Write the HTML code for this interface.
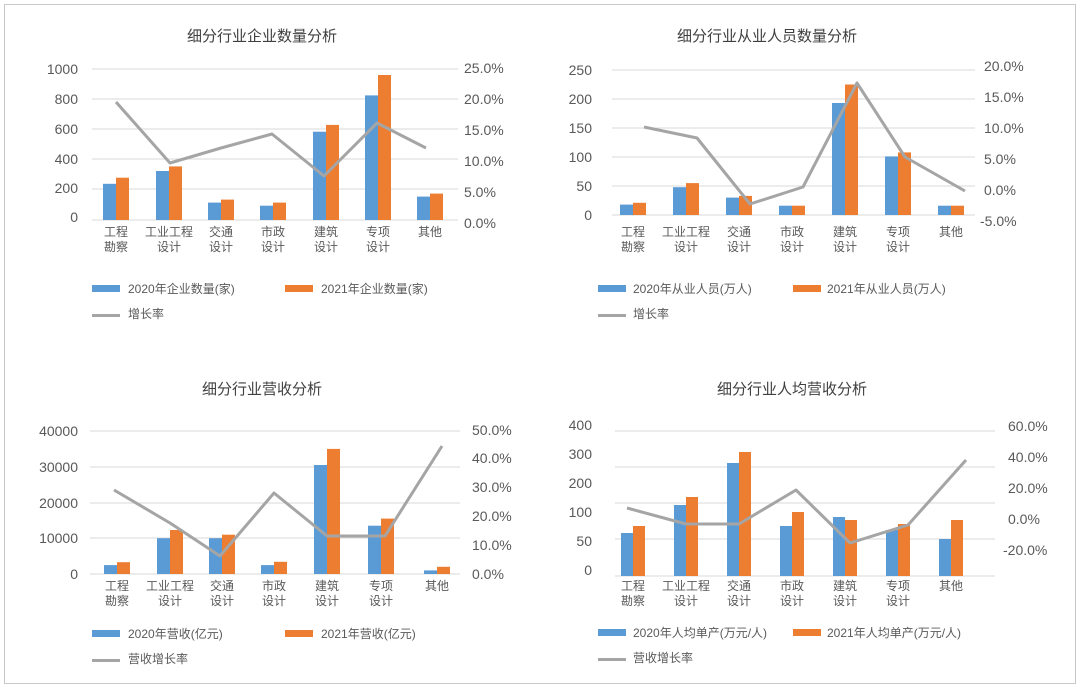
<!DOCTYPE html>
<html><head><meta charset="utf-8"><style>
html,body{margin:0;padding:0;background:#fff;}
svg{display:block;font-family:"Liberation Sans","Noto Sans CJK SC",sans-serif;}
.t{font-size:15px;fill:#404040;text-anchor:middle}
.n{font-size:14px;fill:#595959}
.c{font-size:12px;fill:#595959;text-anchor:middle}
.l{font-size:12px;fill:#595959}
.g{stroke:#d9d9d9;stroke-width:1}
.b{fill:#5b9bd5}.o{fill:#ed7d31}
.ln{fill:none;stroke:#a5a5a5;stroke-width:3;stroke-linejoin:round}
</style></head><body>
<svg width="1080" height="688" viewBox="0 0 1080 688">
<rect x="4.5" y="4.5" width="1071" height="679" fill="#fff" stroke="#c8c8c8"/>

<!-- Chart 1 -->
<text class="t" x="262" y="41">细分行业企业数量分析</text>
<g class="g"><line x1="92" x2="458" y1="69" y2="69"/><line x1="92" x2="458" y1="99" y2="99"/><line x1="92" x2="458" y1="129" y2="129"/><line x1="92" x2="458" y1="159" y2="159"/><line x1="92" x2="458" y1="189" y2="189"/><line x1="92" x2="458" y1="220" y2="220"/></g>
<g class="n" text-anchor="end"><text x="78" y="74">1000</text><text x="78" y="104">800</text><text x="78" y="134">600</text><text x="78" y="164">400</text><text x="78" y="193">200</text><text x="78" y="222">0</text></g>
<g class="n"><text x="464" y="73">25.0%</text><text x="464" y="104">20.0%</text><text x="464" y="135">15.0%</text><text x="464" y="166">10.0%</text><text x="464" y="197">5.0%</text><text x="464" y="228">0.0%</text></g>
<rect class="b" x="103" y="183.8" width="13" height="36.2"/><rect class="o" x="116" y="177.7" width="13" height="42.3"/>
<rect class="b" x="156" y="171" width="13" height="49"/><rect class="o" x="169" y="166.4" width="13" height="53.6"/>
<rect class="b" x="208" y="202.6" width="13" height="17.4"/><rect class="o" x="221" y="199.6" width="13" height="20.4"/>
<rect class="b" x="260" y="205.7" width="13" height="14.3"/><rect class="o" x="273" y="202.6" width="13" height="17.4"/>
<rect class="b" x="313" y="131.7" width="13" height="88.3"/><rect class="o" x="326" y="124.9" width="13" height="95.1"/>
<rect class="b" x="365" y="95.4" width="13" height="124.6"/><rect class="o" x="378" y="75" width="13" height="145"/>
<rect class="b" x="417" y="196.6" width="13" height="23.4"/><rect class="o" x="430" y="193.6" width="13" height="26.4"/>
<polyline class="ln" points="116,102 170,163 221,148 272,134 324,176 377,123 426,148"/>
<g class="c"><text x="116" y="236">工程</text><text x="116" y="251">勘察</text><text x="169" y="236">工业工程</text><text x="169" y="251">设计</text><text x="221" y="236">交通</text><text x="221" y="251">设计</text><text x="273" y="236">市政</text><text x="273" y="251">设计</text><text x="326" y="236">建筑</text><text x="326" y="251">设计</text><text x="378" y="236">专项</text><text x="378" y="251">设计</text><text x="430" y="236">其他</text></g>
<rect class="b" x="92" y="285" width="28" height="7"/><text class="l" x="128" y="293">2020年企业数量(家)</text>
<rect class="o" x="285" y="285" width="28" height="7"/><text class="l" x="321" y="293">2021年企业数量(家)</text>
<rect fill="#a5a5a5" x="92" y="314" width="28" height="3"/><text class="l" x="128" y="318">增长率</text>

<!-- Chart 2 -->
<text class="t" x="767" y="41">细分行业从业人员数量分析</text>
<g class="g"><line x1="612" x2="975" y1="70" y2="70"/><line x1="612" x2="975" y1="99" y2="99"/><line x1="612" x2="975" y1="128" y2="128"/><line x1="612" x2="975" y1="157" y2="157"/><line x1="612" x2="975" y1="186" y2="186"/><line x1="612" x2="975" y1="215" y2="215"/></g>
<g class="n" text-anchor="end"><text x="592" y="75">250</text><text x="592" y="104">200</text><text x="592" y="133">150</text><text x="592" y="162">100</text><text x="592" y="191">50</text><text x="592" y="220">0</text></g>
<g class="n"><text x="984" y="71">20.0%</text><text x="984" y="102">15.0%</text><text x="984" y="133">10.0%</text><text x="984" y="164">5.0%</text><text x="984" y="195">0.0%</text><text x="980" y="226">-5.0%</text></g>
<rect class="b" x="620" y="204.6" width="13" height="10.4"/><rect class="o" x="633" y="202.8" width="13" height="12.2"/>
<rect class="b" x="673" y="187.2" width="13" height="27.8"/><rect class="o" x="686" y="183.1" width="13" height="31.9"/>
<rect class="b" x="726" y="197.6" width="13" height="17.4"/><rect class="o" x="739" y="195.9" width="13" height="19.1"/>
<rect class="b" x="779" y="205.7" width="13" height="9.3"/><rect class="o" x="792" y="205.7" width="13" height="9.3"/>
<rect class="b" x="832" y="103" width="13" height="112"/><rect class="o" x="845" y="84.5" width="13" height="130.5"/>
<rect class="b" x="885" y="156.4" width="13" height="58.6"/><rect class="o" x="898" y="152.4" width="13" height="62.6"/>
<rect class="b" x="938" y="205.7" width="13" height="9.3"/><rect class="o" x="951" y="205.7" width="13" height="9.3"/>
<polyline class="ln" points="644,127 697,138 750,204 803,187 857,83 905,157 965,191"/>
<g class="c"><text x="633" y="236">工程</text><text x="633" y="251">勘察</text><text x="686" y="236">工业工程</text><text x="686" y="251">设计</text><text x="739" y="236">交通</text><text x="739" y="251">设计</text><text x="792" y="236">市政</text><text x="792" y="251">设计</text><text x="845" y="236">建筑</text><text x="845" y="251">设计</text><text x="898" y="236">专项</text><text x="898" y="251">设计</text><text x="951" y="236">其他</text></g>
<rect class="b" x="598" y="285" width="28" height="7"/><text class="l" x="633" y="293">2020年从业人员(万人)</text>
<rect class="o" x="793" y="285" width="28" height="7"/><text class="l" x="827" y="293">2021年从业人员(万人)</text>
<rect fill="#a5a5a5" x="598" y="314" width="28" height="3"/><text class="l" x="633" y="318">增长率</text>

<!-- Chart 3 -->
<text class="t" x="262" y="394">细分行业营收分析</text>
<g class="g"><line x1="90" x2="460" y1="431" y2="431"/><line x1="90" x2="460" y1="467" y2="467"/><line x1="90" x2="460" y1="503" y2="503"/><line x1="90" x2="460" y1="538" y2="538"/><line x1="90" x2="460" y1="574" y2="574"/></g>
<g class="n" text-anchor="end"><text x="78" y="436">40000</text><text x="78" y="472">30000</text><text x="78" y="508">20000</text><text x="78" y="543">10000</text><text x="78" y="579">0</text></g>
<g class="n"><text x="472" y="435">50.0%</text><text x="472" y="463">40.0%</text><text x="472" y="492">30.0%</text><text x="472" y="521">20.0%</text><text x="472" y="550">10.0%</text><text x="472" y="579">0.0%</text></g>
<rect class="b" x="104" y="565.1" width="13" height="8.9"/><rect class="o" x="117" y="562.2" width="13" height="11.8"/>
<rect class="b" x="157" y="538.2" width="13" height="35.8"/><rect class="o" x="170" y="530" width="13" height="44"/>
<rect class="b" x="209" y="538.2" width="13" height="35.8"/><rect class="o" x="222" y="534.7" width="13" height="39.3"/>
<rect class="b" x="261" y="565.1" width="13" height="8.9"/><rect class="o" x="274" y="561.8" width="13" height="12.2"/>
<rect class="b" x="314" y="465" width="13" height="109"/><rect class="o" x="327" y="448.9" width="13" height="125.1"/>
<rect class="b" x="368" y="525.7" width="13" height="48.3"/><rect class="o" x="381" y="518.6" width="13" height="55.4"/>
<rect class="b" x="424" y="570.4" width="13" height="3.6"/><rect class="o" x="437" y="566.8" width="13" height="7.2"/>
<polyline class="ln" points="114,490 170,523 220,556 274,493 327,536 385,536 442,446"/>
<g class="c"><text x="117" y="590">工程</text><text x="117" y="605">勘察</text><text x="170" y="590">工业工程</text><text x="170" y="605">设计</text><text x="222" y="590">交通</text><text x="222" y="605">设计</text><text x="274" y="590">市政</text><text x="274" y="605">设计</text><text x="327" y="590">建筑</text><text x="327" y="605">设计</text><text x="381" y="590">专项</text><text x="381" y="605">设计</text><text x="437" y="590">其他</text></g>
<rect class="b" x="92" y="630" width="28" height="7"/><text class="l" x="128" y="638">2020年营收(亿元)</text>
<rect class="o" x="285" y="630" width="28" height="7"/><text class="l" x="321" y="638">2021年营收(亿元)</text>
<rect fill="#a5a5a5" x="92" y="659" width="28" height="3"/><text class="l" x="128" y="663">营收增长率</text>

<!-- Chart 4 -->
<text class="t" x="792" y="394">细分行业人均营收分析</text>
<g class="g"><line x1="615" x2="995" y1="431" y2="431"/><line x1="615" x2="995" y1="467" y2="467"/><line x1="615" x2="995" y1="503" y2="503"/><line x1="615" x2="995" y1="539" y2="539"/><line x1="615" x2="995" y1="576" y2="576"/></g>
<g class="n" text-anchor="end"><text x="592" y="430">400</text><text x="592" y="459">300</text><text x="592" y="488">200</text><text x="592" y="517">100</text><text x="592" y="546">50</text><text x="592" y="575">0</text></g>
<g class="n"><text x="1008" y="431">60.0%</text><text x="1008" y="462">40.0%</text><text x="1008" y="493">20.0%</text><text x="1008" y="524">0.0%</text><text x="1003" y="555">-20.0%</text></g>
<rect class="b" x="621" y="533" width="12" height="43"/><rect class="o" x="633" y="526" width="12" height="50"/>
<rect class="b" x="674" y="505" width="12" height="71"/><rect class="o" x="686" y="497" width="12" height="79"/>
<rect class="b" x="727" y="463" width="12" height="113"/><rect class="o" x="739" y="452" width="12" height="124"/>
<rect class="b" x="780" y="526" width="12" height="50"/><rect class="o" x="792" y="512" width="12" height="64"/>
<rect class="b" x="833" y="517" width="12" height="59"/><rect class="o" x="845" y="520" width="12" height="56"/>
<rect class="b" x="886" y="530" width="12" height="46"/><rect class="o" x="898" y="524" width="12" height="52"/>
<rect class="b" x="939" y="539" width="12" height="37"/><rect class="o" x="951" y="520" width="12" height="56"/>
<polyline class="ln" points="627,508 686,524 739,524 796,490 850,543 908,525 966,460"/>
<g class="c"><text x="633" y="590">工程</text><text x="633" y="605">勘察</text><text x="686" y="590">工业工程</text><text x="686" y="605">设计</text><text x="739" y="590">交通</text><text x="739" y="605">设计</text><text x="792" y="590">市政</text><text x="792" y="605">设计</text><text x="845" y="590">建筑</text><text x="845" y="605">设计</text><text x="898" y="590">专项</text><text x="898" y="605">设计</text><text x="951" y="590">其他</text></g>
<rect class="b" x="598" y="629" width="28" height="7"/><text class="l" x="633" y="637">2020年人均单产(万元/人)</text>
<rect class="o" x="793" y="629" width="28" height="7"/><text class="l" x="827" y="637">2021年人均单产(万元/人)</text>
<rect fill="#a5a5a5" x="598" y="658" width="28" height="3"/><text class="l" x="633" y="662">营收增长率</text>
</svg>
</body></html>
